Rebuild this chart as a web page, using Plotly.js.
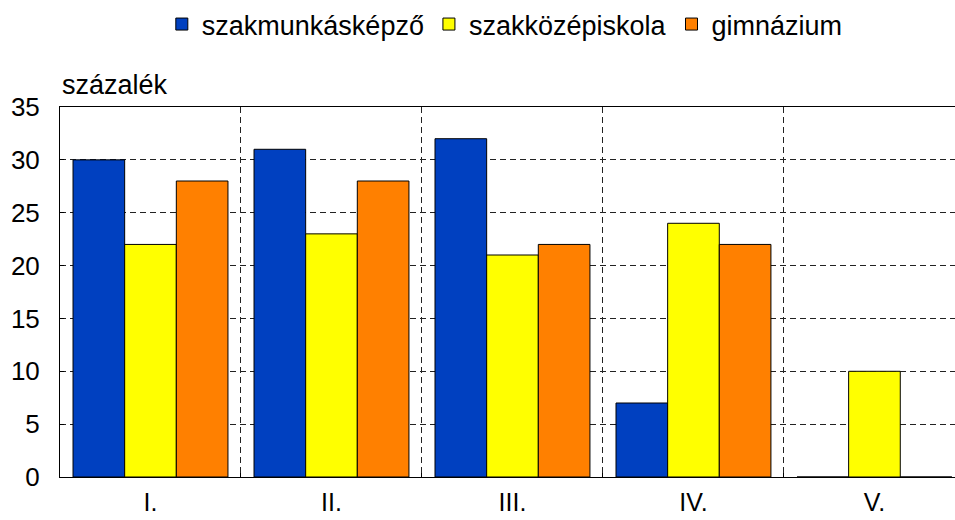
<!DOCTYPE html>
<html>
<head>
<meta charset="utf-8">
<script src="https://cdn.plot.ly/plotly-3.0.1.min.js"></script>
<style>html,body{margin:0;padding:0;background:#fff;}#chart{width:955px;height:520px;}</style>
</head>
<body>
<div id="chart"></div>
<script>
const categories = ["I.", "II.", "III.", "IV.", "V."];
const seriesNames = ["szakmunkásképző", "szakközépiskola", "gimnázium"];
const szakmunkaskepzo = [30, 31, 32, 7, 0];
const szakkozepiskola = [22, 23, 21, 24, 10];
const gimnazium = [28, 28, 22, 22, 0];
const colors = ["#0040C0", "#FFFF00", "#FF8000"];
const yTicks = [0, 5, 10, 15, 20, 25, 30, 35];
const yLabel = "százalék";

const FONT = "Liberation Sans, Arial, sans-serif";
const values = [szakmunkaskepzo, szakkozepiskola, gimnazium];
const traces = values.map((v, i) => ({
  type: "bar",
  name: seriesNames[i],
  x: categories,
  y: v,
  marker: {color: colors[i], line: {color: "#000", width: 1}},
  hoverinfo: "skip"
}));

const layout = {
  width: 955, height: 520,
  margin: {l: 60, r: 0, t: 107, b: 43},
  paper_bgcolor: "#fff", plot_bgcolor: "#fff",
  barmode: "group", bargap: 0.144, bargroupgap: 0,
  font: {family: FONT, size: 26, color: "#000"},
  showlegend: true,
  legend: {
    orientation: "h", x: 0.497, xanchor: "center",
    yref: "container", y: 1.0, yanchor: "top",
    font: {family: FONT, size: 27, color: "#000"},
    itemwidth: 30, tracegroupgap: 0,
    bgcolor: "rgba(0,0,0,0)"
  },
  xaxis: {
    type: "category",
    range: [-0.5, 4.445],
    tickson: "boundaries",
    showgrid: true, gridcolor: "#222", gridwidth: 1, griddash: "6px,4px",
    showline: true, linecolor: "#000", linewidth: 1, mirror: true,
    ticks: "inside", ticklen: 4, tickcolor: "#000",
    tickfont: {family: FONT, size: 25, color: "#000"},
    ticklabelstandoff: 3,
    zeroline: false, fixedrange: true
  },
  yaxis: {
    range: [0, 35],
    tickvals: yTicks,
    showgrid: true, gridcolor: "#222", gridwidth: 1, griddash: "6px,4px",
    showline: true, linecolor: "#000", linewidth: 1, mirror: false,
    ticks: "inside", ticklen: 4, tickcolor: "#000",
    tickfont: {family: FONT, size: 26, color: "#000"},
    ticklabelstandoff: 14,
    zeroline: false, fixedrange: true
  },
  annotations: [{
    text: yLabel, xref: "paper", yref: "paper", x: 0, y: 1,
    xanchor: "left", yanchor: "bottom", yshift: 5, showarrow: false,
    font: {family: FONT, size: 27, color: "#000"}
  }]
};

Plotly.newPlot("chart", traces, layout, {displayModeBar: false, staticPlot: true});
</script>
</body>
</html>
